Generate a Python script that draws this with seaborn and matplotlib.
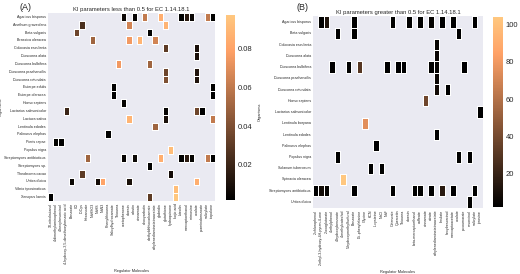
import seaborn as sns
import matplotlib.pyplot as plt
import numpy as np
import pandas as pd

# ---- panel A : Ki < 0.5 ----
low_organisms = [
    "Agaricus bisporus", "Anethum graveolens", "Beta vulgaris", "Brassica oleracea",
    "Colocasia esculenta", "Dioscorea alata", "Dioscorea bulbifera", "Dioscorea praehensilis",
    "Dioscorea rotundata", "Euterpe edulis", "Euterpe oleracea", "Homo sapiens",
    "Lactarius salmonicolor", "Lactuca sativa", "Lentinula edodes", "Palinurus elephas",
    "Pieris rapae", "Populus nigra", "Streptomyces antibioticus", "Streptomyces sp.",
    "Theobroma cacao", "Urtica dioica", "Vibrio tyrosinaticus", "Xenopus laevis",
]
low_molecules = [
    "10-nitrobutanol", "4-dimethylaminophenol", "4-hexylresorcinol",
    "4-hydroxy-3,5-dimethoxybenzoic acid", "Benzoate", "CO", "D-Cys", "Hexanoate",
    "NaHSO3", "NaHS", "NaN3", "Phenylthiourea", "Salicylhydroxamate", "Thiourea",
    "acetophenone", "aloesin", "arbutin", "cinnamate", "deoxyarbutin",
    "diethyldithiocarbamate", "ethylenediaminetetraacetate", "glabridin", "glutathione",
    "hydroquinone", "kojic acid", "luteolin", "mercaptoethanol", "mimosine", "oxalate",
    "p-aminobenzoate", "salicylate", "tropolone",
]
low_org = [
    "Agaricus bisporus"] * 9 + ["Anethum graveolens"] * 3 + ["Beta vulgaris"] * 2 + \
    ["Brassica oleracea"] * 4 + ["Colocasia esculenta"] * 2 + ["Dioscorea alata"] + \
    ["Dioscorea bulbifera"] * 2 + ["Dioscorea praehensilis"] * 2 + ["Dioscorea rotundata"] * 2 + \
    ["Euterpe edulis"] * 2 + ["Euterpe oleracea"] * 2 + ["Homo sapiens"] + \
    ["Lactarius salmonicolor"] * 4 + ["Lactuca sativa"] * 3 + ["Lentinula edodes"] + \
    ["Palinurus elephas"] + ["Pieris rapae"] * 2 + ["Populus nigra"] + \
    ["Streptomyces antibioticus"] * 9 + ["Streptomyces sp."] + ["Theobroma cacao"] * 2 + \
    ["Urtica dioica"] * 5 + ["Vibrio tyrosinaticus"] + ["Xenopus laevis"] * 3
low_mol = [
    "acetophenone", "arbutin", "deoxyarbutin", "glabridin", "luteolin", "mercaptoethanol",
    "mimosine", "salicylate", "tropolone",
    "D-Cys", "aloesin", "glutathione",
    "CO", "diethyldithiocarbamate",
    "NaHSO3", "aloesin", "cinnamate", "ethylenediaminetetraacetate",
    "glutathione", "oxalate",
    "oxalate",
    "Thiourea", "diethyldithiocarbamate",
    "glutathione", "oxalate",
    "glutathione", "oxalate",
    "Salicylhydroxamate", "tropolone",
    "Salicylhydroxamate", "tropolone",
    "acetophenone",
    "4-hydroxy-3,5-dimethoxybenzoic acid", "glutathione", "oxalate", "p-aminobenzoate",
    "aloesin", "glutathione", "tropolone",
    "ethylenediaminetetraacetate",
    "Phenylthiourea",
    "4-dimethylaminophenol", "4-hexylresorcinol",
    "hydroquinone",
    "Hexanoate", "acetophenone", "arbutin", "glabridin", "luteolin", "mercaptoethanol",
    "mimosine", "salicylate", "tropolone",
    "diethyldithiocarbamate",
    "D-Cys", "hydroquinone",
    "Benzoate", "NaHS", "NaN3", "aloesin", "oxalate",
    "kojic acid",
    "10-nitrobutanol", "diethyldithiocarbamate", "kojic acid",
]
low_val = [
    0.006, 0.004, 0.060, 0.085, 0.003, 0.015, 0.005, 0.060, 0.003,
    0.025, 0.065, 0.088,
    0.035, 0.003,
    0.050, 0.075, 0.088, 0.065,
    0.030, 0.010,
    0.010,
    0.075, 0.050,
    0.035, 0.012,
    0.040, 0.012,
    0.003, 0.003,
    0.003, 0.003,
    0.004,
    0.020, 0.004, 0.035, 0.002,
    0.088, 0.010, 0.060,
    0.050,
    0.003,
    0.003, 0.003,
    0.092,
    0.050, 0.004, 0.006, 0.085, 0.003, 0.015, 0.004, 0.060, 0.003,
    0.003,
    0.030, 0.008,
    0.006, 0.008, 0.080, 0.010, 0.085,
    0.092,
    0.002, 0.030, 0.097,
]

# ---- panel B : Ki > 0.5 ----
high_organisms = [
    "Agaricus bisporus", "Beta vulgaris", "Colocasia esculenta", "Dioscorea alata",
    "Dioscorea bulbifera", "Dioscorea praehensilis", "Dioscorea rotundata", "Homo sapiens",
    "Lactarius salmonicolor", "Lentinula boryana", "Lentinula edodes", "Palinurus elephas",
    "Populus nigra", "Solanum tuberosum", "Spinacia oleracea", "Streptomyces antibioticus",
    "Urtica dioica",
]
high_molecules = [
    "2-chlorophenol", "2-ethyl-3-hydroxy-4H-pyran-4-one", "2-oxoglutarate", "4-ethylphenol",
    "4-hydroxybenzoate", "4-methylcatechol", "5-hydroxymethylfurfural", "Benzoate",
    "DL-phenylalanine", "Glycine", "KCN", "L-cysteine", "NaCl", "NaF", "Octanoate",
    "Quercetin", "Thiourea", "aloesin", "beta-mercaptoethanol", "caffeate", "cinnamate",
    "citrate", "ethylenediaminetetraacetate", "ferulate", "hexylresorcinol",
    "mercaptoacetate", "oxalate", "p-coumarate", "resorcinol", "salicylate", "tyrosine",
]
high_org = [
    "Agaricus bisporus"] * 10 + ["Beta vulgaris"] * 3 + ["Colocasia esculenta"] + \
    ["Dioscorea alata"] + ["Dioscorea bulbifera"] * 9 + ["Dioscorea praehensilis"] + \
    ["Dioscorea rotundata"] * 2 + ["Homo sapiens"] + ["Lactarius salmonicolor"] + \
    ["Lentinula boryana"] + ["Lentinula edodes"] + ["Palinurus elephas"] + \
    ["Populus nigra"] * 3 + ["Solanum tuberosum"] * 2 + ["Spinacia oleracea"] + \
    ["Streptomyces antibioticus"] * 11 + ["Urtica dioica"]
high_mol = [
    "2-ethyl-3-hydroxy-4H-pyran-4-one", "2-oxoglutarate", "Benzoate", "Octanoate",
    "aloesin", "caffeate", "citrate", "ferulate", "mercaptoacetate", "salicylate",
    "4-hydroxybenzoate", "Benzoate", "oxalate",
    "ethylenediaminetetraacetate",
    "ethylenediaminetetraacetate",
    "4-ethylphenol", "5-hydroxymethylfurfural", "DL-phenylalanine", "NaF", "Quercetin",
    "Thiourea", "citrate", "ethylenediaminetetraacetate", "p-coumarate",
    "ethylenediaminetetraacetate",
    "ethylenediaminetetraacetate", "hexylresorcinol",
    "cinnamate",
    "tyrosine",
    "Glycine",
    "ethylenediaminetetraacetate",
    "L-cysteine",
    "4-hydroxybenzoate", "oxalate", "resorcinol",
    "KCN", "NaCl",
    "4-methylcatechol",
    "2-chlorophenol", "2-ethyl-3-hydroxy-4H-pyran-4-one", "2-oxoglutarate", "Benzoate",
    "Octanoate", "beta-mercaptoethanol", "caffeate", "citrate", "ferulate",
    "mercaptoacetate", "salicylate",
    "resorcinol",
]
high_val = [
    3, 12, 2, 3, 2, 3, 4, 2, 3, 2,
    2, 3, 2,
    4,
    5,
    2, 3, 30, 2, 2, 2, 3, 4, 2,
    6,
    8, 2,
    38,
    2,
    75,
    3,
    2,
    2, 3, 2,
    2, 3,
    104,
    2, 8, 4, 2, 2, 2, 3, 2, 15, 2, 2,
    3,
]


def make_table(orgs, mols, vals, rows, cols):
    df = pd.DataFrame({"org": orgs, "mol": mols, "ki": vals})
    table = df.pivot_table(index="org", columns="mol", values="ki", aggfunc="first")
    return table.reindex(index=rows, columns=cols)


sns.set_theme(style="darkgrid")
plt.rcParams["font.family"] = ["Liberation Sans", "DejaVu Sans"]

fig = plt.figure(figsize=(5.2, 2.74), dpi=100)

panels = [
    ("(A)", "KI parameters less than 0.5 for EC 1.14.18.1",
     make_table(low_org, low_mol, low_val, low_organisms, low_molecules),
     [0.0923, 0.2664, 0.3212, 0.6862], [0.4346, 0.270, 0.0173, 0.675], 0.038, -0.362, -0.27),
    ("(B)", "KI parameters greater than 0.5 for EC 1.14.18.1",
     make_table(high_org, high_mol, high_val, high_organisms, high_molecules),
     [0.6019, 0.2423, 0.3269, 0.6978], [0.948, 0.2445, 0.019, 0.693], 0.571, -0.327, -0.30),
]

for tag, title, table, hm_pos, cb_pos, tag_x, xl_y, yl_x in panels:
    ax = fig.add_axes(hm_pos)
    cax = fig.add_axes(cb_pos)
    sns.heatmap(table, cmap="copper", ax=ax, cbar_ax=cax, linewidths=0.6,
                linecolor="white", xticklabels=True, yticklabels=True)
    # outline only the filled cells, leave the empty background plain
    mesh = ax.collections[0]
    filled = np.isfinite(table.values).ravel()
    mesh.set_edgecolors([(1, 1, 1, 1) if f else (1, 1, 1, 0) for f in filled])
    ax.grid(False)
    ax.set_title(title, fontsize=4.2, pad=1.5, color="#262626")
    ax.set_xlabel("Regulator Molecules", fontsize=2.8)
    ax.set_ylabel("Organisms", fontsize=2.8)
    ax.xaxis.set_label_coords(0.5, xl_y)
    ax.yaxis.set_label_coords(yl_x, 0.5)
    ax.tick_params(axis="both", labelsize=2.6, length=0, pad=1.5)
    plt.setp(ax.get_xticklabels(), rotation=90)
    plt.setp(ax.get_yticklabels(), rotation=0)
    cax.tick_params(labelsize=5.5, length=0, pad=2)
    fig.text(tag_x, 0.99, tag, fontsize=6.5, va="top", ha="left", color="#262626")

plt.savefig("out.png", dpi=100)
